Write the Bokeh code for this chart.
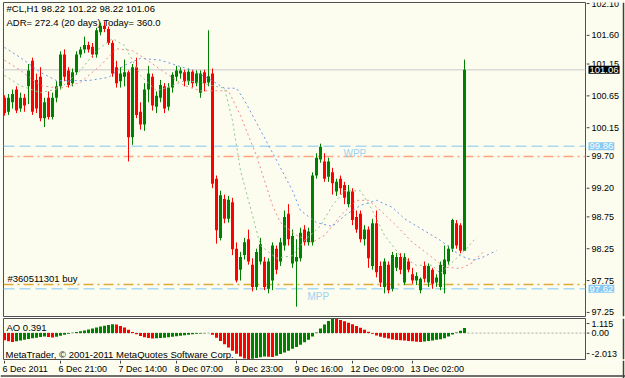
from bokeh.plotting import figure
from bokeh.layouts import column, row
from bokeh.models import Range1d, Span, Label, ColumnDataSource
from bokeh.core.properties import value
from bokeh.embed import file_html
from bokeh.resources import INLINE

BG = "#FCFDEE"
FONT = "Liberation Sans"
FRAME = "#404040"

# ---------------- data ----------------
bars = list(range(116))
opens = [100.62,100.40,100.55,100.75,100.45,100.62,100.80,101.20,100.90,100.95,
         100.30,100.62,100.32,100.62,100.80,101.30,101.05,100.85,101.02,101.30,
         101.38,101.45,101.42,101.30,101.65,101.75,101.70,101.48,101.10,100.88,
         100.95,101.02,100.00,101.10,100.40,100.20,100.75,100.95,100.48,100.62,
         100.80,100.48,100.78,100.95,101.00,101.02,100.88,101.03,100.85,100.70,
         101.02,100.86,101.00,99.35,98.42,99.03,98.72,98.98,98.25,97.92,
         98.15,98.40,98.00,97.65,98.05,98.05,97.62,97.75,98.25,98.05,
         98.30,98.80,98.02,98.05,98.10,98.55,98.35,98.35,99.40,99.65,
         99.62,99.38,99.45,99.15,99.35,99.25,98.95,99.15,98.75,98.80,
         98.40,98.55,97.98,98.65,97.98,97.65,98.00,97.62,97.95,98.12,
         97.72,98.05,97.85,97.75,97.60,97.98,97.72,97.92,97.72,97.65,
         97.85,98.05,98.25,98.65,98.62,98.22]
highs = [100.66,100.68,100.75,100.80,100.70,100.68,101.15,101.25,101.00,101.10,
         100.62,100.72,100.70,100.88,101.35,101.38,101.10,101.08,101.35,101.42,
         101.58,101.50,101.48,101.72,101.80,101.82,101.74,101.52,101.20,101.10,
         101.22,101.05,101.15,101.25,100.55,100.85,101.12,101.00,100.72,100.90,
         100.85,100.85,101.02,101.12,101.10,101.06,101.08,101.06,101.05,101.05,
         101.06,101.68,101.08,99.40,99.16,99.10,99.08,99.05,98.35,98.20,
         98.42,98.55,98.10,98.25,98.42,98.12,98.10,98.35,98.30,98.42,
         98.85,98.95,98.55,98.40,98.58,98.62,98.58,99.45,99.75,99.90,
         99.75,99.68,99.52,99.35,99.40,99.30,99.25,99.20,98.85,98.85,
         98.62,98.60,98.72,98.85,98.05,98.10,98.05,98.20,98.18,98.18,
         98.18,98.10,97.95,97.88,97.80,98.05,98.02,97.95,97.85,98.05,
         98.30,98.30,98.72,98.70,98.65,101.22]
lows = [100.34,100.35,100.45,100.38,100.40,100.40,100.52,100.35,100.38,100.25,
        100.16,100.28,100.28,100.55,100.75,100.88,100.78,100.80,100.98,101.25,
        101.32,101.33,101.25,101.25,101.60,101.65,101.45,100.95,100.78,100.78,
        100.80,99.62,99.88,100.30,100.12,100.10,100.55,100.42,100.38,100.55,
        100.38,100.42,100.70,100.88,100.92,100.80,100.82,100.78,100.80,100.62,
        100.72,100.80,99.20,98.33,98.38,98.65,98.66,98.15,97.72,97.75,
        98.08,98.00,97.58,97.60,98.00,97.60,97.55,97.60,97.85,97.98,
        98.22,98.30,97.95,97.34,98.05,98.30,98.30,98.30,99.35,99.60,
        99.30,99.30,99.10,99.08,99.10,98.95,98.90,98.62,98.50,98.35,
        98.30,97.95,97.92,97.80,97.65,97.55,97.55,97.58,97.90,97.85,
        97.68,97.88,97.70,97.68,97.55,97.72,97.65,97.62,97.65,97.60,
        97.55,98.00,98.20,98.25,98.18,98.22]
closes = [100.38,100.62,100.68,100.42,100.62,100.50,101.05,100.40,100.45,100.30,
          100.55,100.32,100.62,100.80,101.30,100.95,100.82,101.02,101.30,101.38,
          101.45,101.38,101.30,101.68,101.75,101.70,101.48,101.00,100.85,101.00,
          101.02,100.00,101.10,100.35,100.20,100.75,101.00,100.50,100.65,100.82,
          100.45,100.78,100.98,101.05,101.05,100.88,101.03,100.85,101.00,101.00,
          100.85,100.96,99.27,98.54,99.09,98.72,99.02,98.24,97.75,98.12,
          98.35,98.05,97.65,98.20,98.32,97.65,98.05,98.30,97.92,98.35,
          98.75,98.40,98.45,98.12,98.50,98.35,98.52,99.40,99.68,99.85,
          99.35,99.62,99.28,99.30,99.20,99.05,99.15,98.70,98.55,98.40,
          98.55,98.10,98.65,97.88,97.72,98.05,97.60,98.15,98.12,97.92,
          98.12,97.92,97.75,97.82,97.78,97.78,97.98,97.70,97.80,98.00,
          98.08,98.25,98.70,98.30,98.22,101.06]

# Alligator lines (dotted), sampled along the bars
jaw_x = [0,4,9,13,16,21,26,30,34,39,43,47,51,55,58,60,64,68,72,74,78,82,85,89,93,97,100,104,109,114,117,119,123]
jaw_y = [101.41,101.25,101.02,100.89,100.89,100.89,100.94,101.13,101.24,101.21,101.13,101.05,100.92,100.77,100.77,
         100.58,100.11,99.64,99.16,98.85,98.66,98.60,98.77,98.93,99.01,98.90,98.72,98.57,98.38,98.14,98.07,98.10,98.22]
teeth_x = [0,4,9,14,19,24,28,32,35,40,45,49,53,56,59,63,67,69,73,77,80,84,88,91,94,98,102,107,110,114,117,120]
teeth_y = [101.21,101.05,100.81,100.77,100.86,101.13,101.39,101.36,101.24,101.02,100.81,100.73,100.73,100.73,100.34,
           99.71,98.93,98.66,98.46,98.35,98.46,98.77,99.01,99.01,98.85,98.61,98.35,98.11,97.96,97.94,98.03,98.22]
lips_x = [0,4,9,14,19,23,27,30,34,38,42,45,49,52,55,57,59,62,64,68,72,75,79,82,85,89,92,95,99,103,107,109,113,115,118]
lips_y = [100.97,100.81,100.70,100.77,101.05,101.36,101.55,101.44,100.97,100.73,100.81,100.89,100.86,100.81,100.77,
          100.26,99.48,98.77,98.30,98.10,98.14,98.38,98.61,98.93,99.16,99.16,98.85,98.46,98.14,97.99,97.99,97.86,
          98.10,98.22,98.43]

# Awesome Oscillator
ao = [-0.55,-0.62,-0.68,-0.62,-0.56,-0.50,-0.45,-0.40,-0.35,-0.30,
      -0.26,-0.30,-0.33,-0.28,-0.20,-0.12,-0.04,0.02,0.08,0.14,
      0.20,0.28,0.35,0.42,0.50,0.56,0.62,0.68,0.66,0.55,
      0.42,0.25,0.08,-0.08,-0.22,-0.32,-0.38,-0.42,-0.40,-0.38,
      -0.35,-0.32,-0.28,-0.24,-0.20,-0.16,-0.12,-0.08,-0.05,-0.03,
      -0.01,0.01,-0.12,-0.35,-0.60,-0.85,-1.10,-1.35,-1.58,-1.78,
      -1.93,-2.01,-1.96,-1.90,-1.84,-1.78,-1.80,-1.82,-1.72,-1.60,
      -1.48,-1.35,-1.20,-1.05,-0.88,-0.70,-0.50,-0.25,0.05,0.35,
      0.65,0.92,1.115,1.08,1.00,0.90,0.80,0.68,0.55,0.40,
      0.25,0.10,-0.05,-0.18,-0.28,-0.36,-0.42,-0.48,-0.52,-0.55,
      -0.57,-0.60,-0.63,-0.66,-0.68,-0.64,-0.60,-0.56,-0.51,-0.46,
      -0.40,-0.25,-0.10,0.05,0.18,0.391]

price_ticks = [102.10, 101.60, 101.15, 100.65, 100.15, 99.70, 99.20, 98.75, 98.25, 97.75, 97.25]
ao_tick_pos = [0.73, 0.0, -1.56]
ao_tick_labels = ["1.115", "0.00", "-2.013"]
time_ticks = [0, 14, 29, 43, 58, 73, 87, 102]
time_labels = ["6 Dec 2011", "6 Dec 21:00", "7 Dec 14:00", "8 Dec 07:00", "8 Dec 23:00",
               "9 Dec 16:00", "12 Dec 09:00", "13 Dec 02:00"]

last_price = 101.06
wpp = 99.86
pivot_line = 99.70
buy_price = 97.69
mpp = 97.62
ao_now = 0.391
ao_max = 1.115
ao_min = -2.013

X_RANGE = Range1d(-0.25, 145.25)
Y_RANGE = Range1d(97.186, 102.116)
AO_RANGE = Range1d(ao_min, ao_max)


def strip(height, y_range, top, bottom):
    f = figure(width=39, height=height, output_backend="svg", toolbar_location=None,
               x_range=Range1d(0, 39), y_range=y_range,
               x_axis_location=None, y_axis_location=None,
               min_border_left=0, min_border_right=0, min_border_top=top, min_border_bottom=bottom,
               background_fill_color=BG, border_fill_color=BG, outline_line_color=None)
    f.grid.visible = False
    f.add_layout(Span(location=37, dimension="height", line_color=FRAME, line_width=1.5))
    return f


# ---------------- main price panel ----------------
p = figure(width=586, height=317, output_backend="svg", toolbar_location=None,
           x_range=X_RANGE, y_range=Y_RANGE,
           x_axis_location=None, y_axis_location=None,
           min_border_left=3, min_border_right=1, min_border_top=2, min_border_bottom=1,
           background_fill_color=BG, border_fill_color=BG,
           outline_line_color="#505050", outline_line_width=1)
p.grid.visible = False

p.add_layout(Span(location=last_price, dimension="width", line_color="#DADADA", line_width=1.5, level="underlay"))
p.add_layout(Span(location=wpp, dimension="width", line_color="#A8D8F2", line_width=1.5,
                  line_dash="11 5", level="underlay"))
p.add_layout(Span(location=pivot_line, dimension="width", line_color="#FFA47E", line_width=1.5,
                  line_dash="10 4 2 4", level="underlay"))
p.add_layout(Span(location=buy_price, dimension="width", line_color="#DDAA3A", line_width=1.5,
                  line_dash="10 4 2 4", level="underlay"))
p.add_layout(Span(location=mpp, dimension="width", line_color="#A8D8F2", line_width=1.5,
                  line_dash="11 5", level="underlay"))

up = [c >= o for o, c in zip(opens, closes)]
cols = ["#008000" if u else "#FF0000" for u in up]
src = ColumnDataSource(dict(x=bars, o=opens, h=highs, l=lows, c=closes,
                            top=[max(o, c) for o, c in zip(opens, closes)],
                            bot=[min(o, c) for o, c in zip(opens, closes)],
                            col=cols))
p.segment(x0="x", y0="l", x1="x", y1="h", line_color="col", line_width=1, source=src)
p.vbar(x="x", width=0.75, top="top", bottom="bot", fill_color="col", line_color=None, source=src)

p.line(jaw_x, jaw_y, line_color="#6F95E8", line_width=1, line_dash="2 3")
p.line(teeth_x, teeth_y, line_color="#F08A8A", line_width=1, line_dash="2 3")
p.line(lips_x, lips_y, line_color="#8CC48C", line_width=1, line_dash="2 3")

txt = dict(text_font=FONT, text_font_size="9.5px", text_color="black")
p.add_layout(Label(x=3, y=308, x_units="screen", y_units="screen", text_baseline="middle",
                   text="#CL,H1  98.22 101.22 98.22 101.06", **txt))
p.add_layout(Label(x=3, y=294, x_units="screen", y_units="screen", text_baseline="middle",
                   text="ADR= 272.4  (20 days) Today= 360.0", **txt))
p.add_layout(Label(x=0.75, y=97.775, text_baseline="middle", text="#360511301 buy", **txt))
p.add_layout(Label(x=84.75, y=99.824, text_baseline="top", text="WPP",
                   text_font=FONT, text_font_size="10px", text_color="#9DD3F0"))
p.add_layout(Label(x=75.75, y=97.579, text_baseline="top", text="MPP",
                   text_font=FONT, text_font_size="10px", text_color="#9DD3F0"))

# right price scale
pr = strip(317, Y_RANGE, 2, 1)
pr.segment(x0=0, y0=price_ticks, x1=3, y1=price_ticks, line_color=FRAME, line_width=1)
pr.text(x=5, y=price_ticks, text=["%.2f" % v for v in price_ticks], text_align="left",
        text_baseline="middle", text_font=value(FONT), text_font_size="9px", text_color="black")
for val, bg in [(last_price, "black"), (wpp, "#86C9F2"), (mpp, "#86C9F2")]:
    pr.add_layout(Label(x=2, y=val, text="%.2f" % val, text_baseline="middle",
                        text_font=FONT, text_font_size="9.5px", text_color="white",
                        background_fill_color=bg, padding=1))

# ---------------- AO panel ----------------
p2 = figure(width=586, height=43, output_backend="svg", toolbar_location=None,
            x_range=X_RANGE, y_range=AO_RANGE,
            x_axis_location=None, y_axis_location=None,
            min_border_left=3, min_border_right=1, min_border_top=1, min_border_bottom=1,
            background_fill_color=BG, border_fill_color=BG,
            outline_line_color="#505050", outline_line_width=1)
p2.grid.visible = False
p2.add_layout(Span(location=0, dimension="width", line_color="#A8A8A8", line_width=1,
                   line_dash="2 2", level="underlay"))
ao_cols = ["#FF0000"] + ["#008000" if ao[i] > ao[i - 1] else "#FF0000" for i in range(1, len(ao))]
p2.vbar(x=bars, width=0.75, top=ao, bottom=0, fill_color=ao_cols, line_color=None)
p2.add_layout(Label(x=3, y=32, x_units="screen", y_units="screen", text_baseline="middle",
                    text="AO %.3f" % ao_now, text_font=FONT, text_font_size="9.5px", text_color="black"))
p2.add_layout(Label(x=2, y=5, x_units="screen", y_units="screen", text_baseline="middle",
                    text="MetaTrader, © 2001-2011 MetaQuotes Software Corp.",
                    text_font=FONT, text_font_size="9.5px", text_color="black"))

p2r = strip(43, AO_RANGE, 1, 1)
p2r.segment(x0=0, y0=ao_tick_pos, x1=3, y1=ao_tick_pos, line_color=FRAME, line_width=1)
p2r.text(x=5, y=ao_tick_pos, text=ao_tick_labels, text_align="left", text_baseline="middle",
         text_font=value(FONT), text_font_size="9px", text_color="black")

# ---------------- time scale strip ----------------
pt = figure(width=625, height=18, output_backend="svg", toolbar_location=None,
            x_range=Range1d(-1, 155.25), y_range=Range1d(0, 18),
            x_axis_location=None, y_axis_location=None,
            min_border_left=0, min_border_right=0, min_border_top=0, min_border_bottom=0,
            background_fill_color=BG, border_fill_color=BG, outline_line_color=None)
pt.grid.visible = False
pt.segment(x0=time_ticks, y0=18, x1=time_ticks, y1=15, line_color=FRAME, line_width=1)
pt.text(x=time_ticks, y=15, text=time_labels, text_align="left", text_baseline="top",
        x_offset=-2, text_font=value(FONT), text_font_size="9px", text_color="black")
pt.add_layout(Span(location=154.75, dimension="height", line_color=FRAME, line_width=1.5))
pt.add_layout(Span(location=2.5, dimension="width", line_color=FRAME, line_width=1.5))

layout = column(row(p, pr, spacing=0), row(p2, p2r, spacing=0), pt, spacing=0)
open("out.html", "w").write(file_html(layout, INLINE))
